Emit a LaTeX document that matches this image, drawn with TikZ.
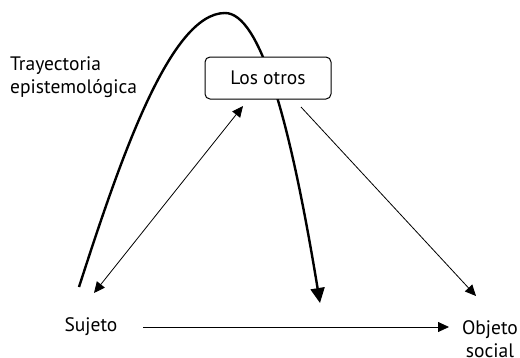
\documentclass[tikz,border=0pt]{standalone}
\usepackage{fontspec}
\setmainfont{PT Sans}
\usetikzlibrary{arrows.meta}
\begin{document}
\begin{tikzpicture}[x=1pt,y=-1pt,
  lbl/.style={inner sep=0pt,font=\fontsize{19.5}{23}\selectfont,text=black},
  thin/.style={line width=0.8pt,-{Triangle[length=11pt,width=10pt]}},
  thick/.style={line width=2.4pt,-{Triangle[length=15pt,width=14pt]}},
  box/.style={draw,line width=1pt,rounded corners=5pt,fill=white,minimum width=126pt,minimum height=42pt,inner sep=0pt,font=\fontsize{19.5}{23}\selectfont}]
\useasboundingbox (0,0) rectangle (520,357);
% thick curve (behind the box)
\coordinate (c0) at (79,287);
\coordinate (cp) at (225,13);
\coordinate (c1) at (320,303);
\draw[thick] (c0) .. controls (120,160) and (170,13) .. (cp)
  .. controls (260,13) and (290,120) .. (c1);
\node[box] (otros) at (268,78) {Los otros};
\node[lbl,anchor=base west,align=left] (tray) at (10,93) {Trayectoria\\epistemológica};
\node[lbl,anchor=base] (sujeto) at (91,331) {Sujeto};
\node[lbl,anchor=base,align=center] (objeto) at (490,357) {Objeto\\social};
\coordinate (a1) at (94,293);
\coordinate (a2) at (243,106);
\coordinate (b1) at (301,107);
\coordinate (b2) at (476,296);
\coordinate (h1) at (143,327);
\coordinate (h2) at (449,327);
\draw[thin,{Triangle[length=11pt,width=10pt]}-{Triangle[length=11pt,width=10pt]}] (a1) -- (a2);
\draw[thin] (b1) -- (b2);
\draw[thin] (h1) -- (h2);
\end{tikzpicture}
\end{document}
